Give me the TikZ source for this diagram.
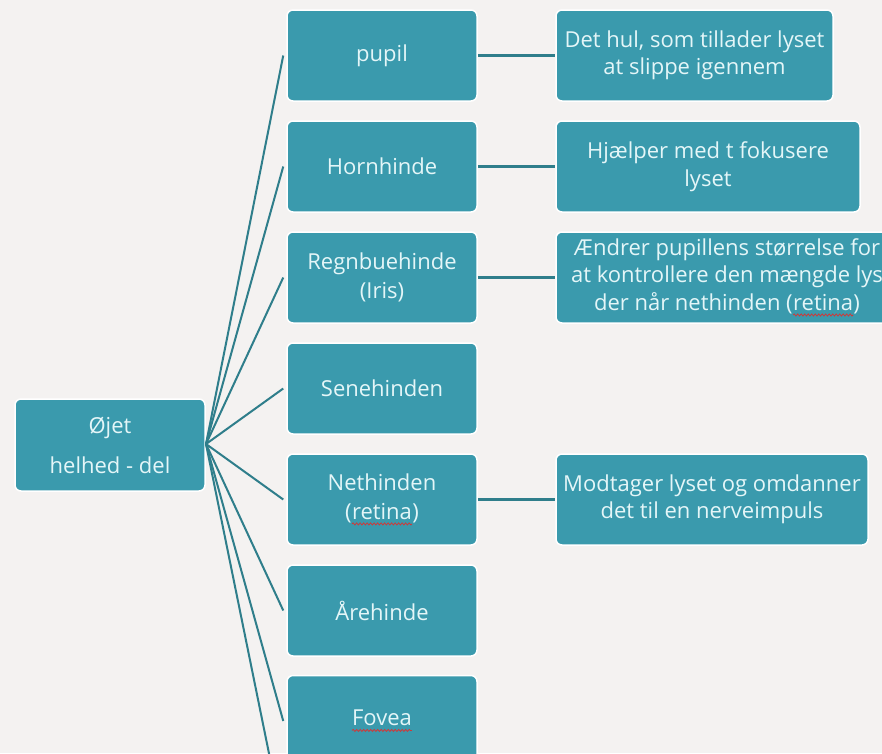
\documentclass[tikz,border=0pt]{standalone}
\usepackage{fontspec}
\setmainfont{Open Sans}
\usetikzlibrary{decorations.pathmorphing}
\definecolor{bg}{HTML}{F4F2F1}
\definecolor{boxfill}{HTML}{3A9AAD}
\definecolor{txt}{HTML}{E4F6F8}
\definecolor{conn}{HTML}{2F7E8B}
\definecolor{spell}{HTML}{D03838}
\newcommand\spellmark[1]{\tikz[baseline=(sw.base)]{\node[inner sep=0pt, outer sep=0pt, draw=none, fill=none, text=txt, minimum width=0pt, minimum height=0pt, rounded corners=0pt] (sw) {#1};
  \draw[spell, line width=0.8pt, rounded corners=0pt, decorate, decoration={snake, amplitude=1pt, segment length=3.5pt}] ([yshift=-4.5pt]sw.base west) -- ([yshift=-4.5pt]sw.base east);}}
\begin{document}
\begin{tikzpicture}[x=1pt,y=-1pt,
  box/.style={draw=white, line width=1.5pt, fill=boxfill, rounded corners=6pt,
    text=txt, align=center, inner sep=0pt, minimum height=91pt,
    font=\fontsize{22}{29}\selectfont},
  rootbox/.style={box, minimum width=190pt, minimum height=92pt, font=\fontsize{22}{40}\selectfont},
  partbox/.style={box, minimum width=190pt},
  descbox/.style={box, font=\fontsize{22}{27.5}\selectfont},
  link/.style={draw=conn, line width=2pt},
  hlink/.style={draw=conn, line width=2.4pt}]
\useasboundingbox (0,0) rectangle (882,753);
\clip (0,0) rectangle (882,753);
\fill[bg] (0,0) rectangle (882,753);

\node[rootbox] (root) at (110,445) {Øjet\\helhed - del};
\coordinate (hub) at (206,444);

\node[partbox] (p1) at (382,55.5) {pupil};
\node[partbox] (p2) at (382,166.5) {Hornhinde};
\node[partbox] (p3) at (382,277.5) {Regnbuehinde\\(Iris)};
\node[partbox] (p4) at (382,388.5) {Senehinden};
\node[partbox] (p5) at (382,499.5) {Nethinden\\(\spellmark{retina})};
\node[partbox] (p6) at (382,610.5) {Årehinde};
\node[partbox] (p7) at (382,721) {\spellmark{Fovea}};
\coordinate (p8) at (285,832);

\node[descbox, minimum width=277pt] (d1) at (694.5,55.5) {Det hul, som tillader lyset\\at slippe igennem};
\node[descbox, minimum width=304pt] (d2) at (708,166.5) {Hjælper med t fokusere\\lyset};
\node[descbox, minimum width=342pt] (d3) at (727,277.5) {Ændrer pupillens størrelse for\\at kontrollere den mængde lys\\der når nethinden (\spellmark{retina})};
\node[descbox, minimum width=312pt] (d5) at (712,499.5) {Modtager lyset og omdanner\\det til en nerveimpuls};

\foreach \p in {p1,p2,p3,p4,p5,p6,p7} {
  \draw[link] (hub) -- ([xshift=-3pt]\p.west);
}
\draw[link] (hub) -- (p8);
\draw[hlink] (p1.east) -- (d1.west);
\draw[hlink] (p2.east) -- (d2.west);
\draw[hlink] (p3.east) -- (d3.west);
\draw[hlink] (p5.east) -- (d5.west);
\end{tikzpicture}
\end{document}
